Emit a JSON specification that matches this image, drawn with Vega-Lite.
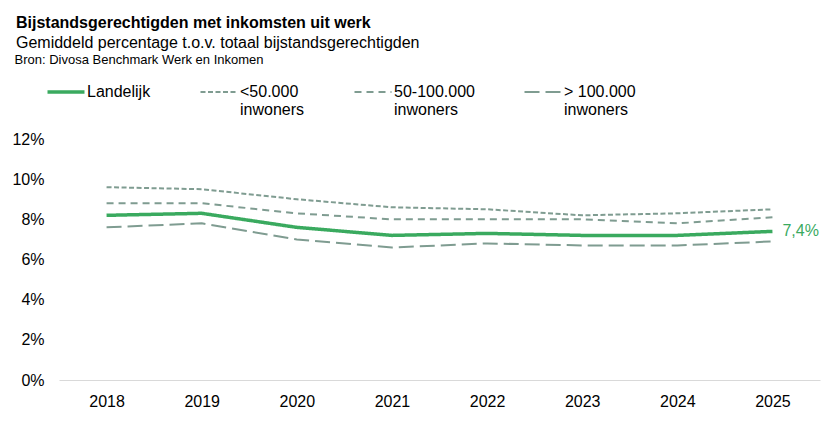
{
  "$schema": "https://vega.github.io/schema/vega-lite/v6.json",
  "autosize": {"type": "none"},
  "padding": {"left": 59, "top": 139, "right": 5, "bottom": 59},
  "width": 761,
  "height": 241,
  "background": "white",
  "title": {
    "text": "Bijstandsgerechtigden met inkomsten uit werk",
    "subtitle": "Gemiddeld percentage t.o.v. totaal bijstandsgerechtigden",
    "anchor": "start",
    "font": "Liberation Sans",
    "fontSize": 16,
    "fontWeight": "bold",
    "color": "black",
    "subtitleFont": "Liberation Sans",
    "subtitleFontSize": 16,
    "subtitleColor": "black",
    "subtitlePadding": 4,
    "offset": 8,
    "dx": 4,
    "dy": 6
  },
  "data": {
    "values": [
      {"year": "2018", "series": "Landelijk", "pct": 0.082},
      {"year": "2019", "series": "Landelijk", "pct": 0.083},
      {"year": "2020", "series": "Landelijk", "pct": 0.076},
      {"year": "2021", "series": "Landelijk", "pct": 0.072},
      {"year": "2022", "series": "Landelijk", "pct": 0.073},
      {"year": "2023", "series": "Landelijk", "pct": 0.072},
      {"year": "2024", "series": "Landelijk", "pct": 0.072},
      {"year": "2025", "series": "Landelijk", "pct": 0.074},
      {"year": "2018", "series": "<50.000 inwoners", "pct": 0.096},
      {"year": "2019", "series": "<50.000 inwoners", "pct": 0.095},
      {"year": "2020", "series": "<50.000 inwoners", "pct": 0.090},
      {"year": "2021", "series": "<50.000 inwoners", "pct": 0.086},
      {"year": "2022", "series": "<50.000 inwoners", "pct": 0.085},
      {"year": "2023", "series": "<50.000 inwoners", "pct": 0.082},
      {"year": "2024", "series": "<50.000 inwoners", "pct": 0.083},
      {"year": "2025", "series": "<50.000 inwoners", "pct": 0.085},
      {"year": "2018", "series": "50-100.000 inwoners", "pct": 0.088},
      {"year": "2019", "series": "50-100.000 inwoners", "pct": 0.088},
      {"year": "2020", "series": "50-100.000 inwoners", "pct": 0.083},
      {"year": "2021", "series": "50-100.000 inwoners", "pct": 0.080},
      {"year": "2022", "series": "50-100.000 inwoners", "pct": 0.080},
      {"year": "2023", "series": "50-100.000 inwoners", "pct": 0.080},
      {"year": "2024", "series": "50-100.000 inwoners", "pct": 0.078},
      {"year": "2025", "series": "50-100.000 inwoners", "pct": 0.081},
      {"year": "2018", "series": "> 100.000 inwoners", "pct": 0.076},
      {"year": "2019", "series": "> 100.000 inwoners", "pct": 0.078},
      {"year": "2020", "series": "> 100.000 inwoners", "pct": 0.070},
      {"year": "2021", "series": "> 100.000 inwoners", "pct": 0.066},
      {"year": "2022", "series": "> 100.000 inwoners", "pct": 0.068},
      {"year": "2023", "series": "> 100.000 inwoners", "pct": 0.067},
      {"year": "2024", "series": "> 100.000 inwoners", "pct": 0.067},
      {"year": "2025", "series": "> 100.000 inwoners", "pct": 0.069}
    ]
  },
  "encoding": {
    "x": {
      "field": "year",
      "type": "ordinal",
      "scale": {"type": "point", "padding": 0.5},
      "axis": {
        "title": null,
        "labelAngle": 0,
        "ticks": false,
        "domainColor": "#d9d9d9",
        "labelPadding": 13
      }
    },
    "y": {
      "field": "pct",
      "type": "quantitative",
      "scale": {"domain": [0, 0.12], "nice": false},
      "axis": {
        "values": [0, 0.02, 0.04, 0.06, 0.08, 0.1, 0.12],
        "format": ".0%",
        "grid": false,
        "domain": false,
        "ticks": false,
        "labelPadding": 15,
        "title": "Bron: Divosa Benchmark Werk en Inkomen",
        "titleAngle": 0,
        "titleAlign": "left",
        "titleBaseline": "alphabetic",
        "titleX": -45,
        "titleY": -76,
        "titleFontSize": 13,
        "titleFontWeight": "normal",
        "titleColor": "black"
      }
    }
  },
  "layer": [
    {
      "mark": {"type": "line", "strokeJoin": "round"},
      "encoding": {
        "color": {
          "field": "series",
          "type": "nominal",
          "scale": {
            "domain": ["Landelijk", "<50.000 inwoners", "50-100.000 inwoners", "> 100.000 inwoners"],
            "range": ["#3aaa5f", "#7f9c91", "#7f9c91", "#7f9c91"]
          },
          "legend": {
            "title": null,
            "orient": "none",
            "direction": "horizontal",
            "legendX": -1,
            "legendY": -55,
            "symbolType": "stroke",
            "symbolSize": 1369,
            "symbolStrokeWidth": 2,
            "labelOffset": 13,
            "columnPadding": 45,
            "labelFontSize": 16,
            "labelLimit": 300,
            "labelBaseline": "top",
            "labelExpr": "datum.label == 'Landelijk' ? ['Landelijk', ''] : [replace(datum.label, ' inwoners', ''), 'inwoners']",
            "encode": {
              "symbols": {
                "update": {"strokeWidth": {"signal": "datum.value == 'Landelijk' ? 3.5 : 2"}}
              },
              "labels": {
                "update": {"dy": {"value": -8}}
              }
            }
          }
        },
        "strokeDash": {
          "field": "series",
          "type": "nominal",
          "scale": {
            "domain": ["Landelijk", "<50.000 inwoners", "50-100.000 inwoners", "> 100.000 inwoners"],
            "range": [[1, 0], [5, 2.5], [7, 5], [15, 6]]
          }
        },
        "strokeWidth": {
          "condition": {"test": "datum.series == 'Landelijk'", "value": 3.5},
          "value": 2
        }
      }
    },
    {
      "transform": [{"filter": "datum.series == 'Landelijk' && datum.year == '2025'"}],
      "mark": {"type": "text", "align": "left", "baseline": "middle", "dx": 10, "fontSize": 16, "color": "#3aaa5f", "font": "Liberation Sans"},
      "encoding": {
        "text": {"field": "pct", "type": "quantitative", "format": ".1%"}
      }
    }
  ],
  "config": {
    "locale": {"number": {"decimal": ",", "thousands": ".", "grouping": [3], "currency": ["€", ""]}},
    "font": "Liberation Sans",
    "view": {"stroke": null},
    "axis": {"labelFontSize": 16, "labelColor": "black", "labelFont": "Liberation Sans"},
    "legend": {"labelFont": "Liberation Sans", "labelColor": "black", "padding": 0}
  }
}
